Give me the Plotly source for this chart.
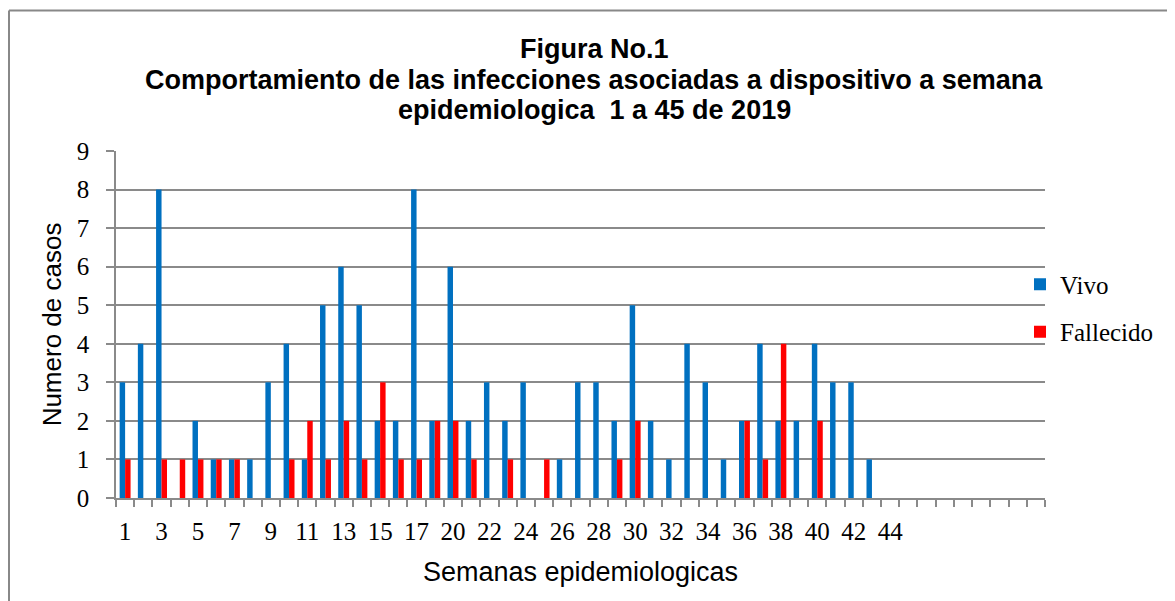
import plotly.graph_objects as go

# Semanas epidemiologicas (category labels, in order on the axis)
semanas = ["1", "2", "3", "4", "5", "6", "7", "8", "9", "10", "11", "12", "13", "14", "15", "16", "17",
           "19", "20", "21", "22", "23", "24", "25", "26", "27", "28", "29", "30", "31", "32", "33",
           "34", "35", "36", "37", "38", "39", "40", "41", "42", "43", "44", "45"]
vivo = [3, 4, 8, 0, 2, 1, 1, 1, 3, 4, 1, 5, 6, 5, 2, 2, 8,
        2, 6, 2, 3, 2, 3, 0, 1, 3, 3, 2, 5, 2, 1, 4,
        3, 1, 2, 4, 2, 2, 4, 3, 3, 1, 0, 0]
fallecido = [1, 0, 1, 1, 1, 1, 1, 0, 0, 1, 2, 1, 2, 1, 3, 1, 1,
             2, 2, 1, 0, 1, 0, 1, 0, 0, 0, 1, 2, 0, 0, 0,
             0, 0, 2, 1, 4, 0, 2, 0, 0, 0, 0, 0]
n_slots = 51  # axis extends with empty slots after the last week
tick_labels = semanas[0:43:2]

title_lines = ["Figura No.1",
               "Comportamiento de las infecciones asociadas a dispositivo a semana",
               "epidemiologica  1 a 45 de 2019"]

x = list(range(len(semanas)))

fig = go.Figure()
fig.add_bar(x=x, y=vivo, name="Vivo", marker=dict(color="#0070C0", line=dict(width=0)),
            legendgroup="g1")
fig.add_bar(x=x, y=fallecido, name="Fallecido", marker=dict(color="#FF0000", line=dict(width=0)),
            legendgroup="g2")

grid = "#8a8a8a"
serif = "Liberation Serif"
sans = "Liberation Sans"

OFF = 8  # page body margin
W, H = 1175 - OFF, 601 - OFF
L, T = 116 - OFF, 151 - OFF
R = W - (1045 - OFF)
B = H - (498.3 - OFF)
pw, ph = W - L - R, H - T - B


def px_x(sx):
    return (sx - OFF - L) / pw


def px_y(sy):
    return (H - B - (sy - OFF)) / ph


annotations = []
for line, yc in zip(title_lines, [49, 80, 110]):
    annotations.append(dict(
        text="<b>" + line + "</b>", x=px_x(594), y=px_y(yc), xref="paper", yref="paper",
        showarrow=False, xanchor="center", yanchor="middle",
        font=dict(family=sans, size=27, color="black"),
    ))

fig.update_layout(
    width=W, height=H,
    margin=dict(l=L, r=R, t=T, b=B),
    paper_bgcolor="white", plot_bgcolor="white",
    barmode="group", bargap=0.4, bargroupgap=0,
    annotations=annotations,
    legend=dict(
        x=px_x(1020), xref="paper", xanchor="left",
        y=px_y(261.5), yref="paper", yanchor="top",
        font=dict(family=serif, size=25, color="black"),
        bgcolor="rgba(0,0,0,0)", borderwidth=0,
        traceorder="grouped", tracegroupgap=12, itemwidth=30,
    ),
    xaxis=dict(
        range=[-0.5, n_slots - 0.5],
        tickmode="array", tickvals=x[0:43:2], ticktext=tick_labels,
        ticks="", showgrid=False, zeroline=False,
        showline=True, linecolor=grid, linewidth=1.5,
        tickfont=dict(family=serif, size=25, color="black"),
        ticklabelstandoff=10,
        minor=dict(tickmode="linear", tick0=-0.5, dtick=1, ticks="outside",
                   ticklen=7, tickwidth=1.5, tickcolor=grid, showgrid=False),
        title=dict(text="Semanas epidemiologicas", font=dict(family=sans, size=27, color="black"),
                   standoff=18),
    ),
    yaxis=dict(
        range=[0, 9], tickmode="linear", tick0=0, dtick=1,
        ticks="outside", ticklen=8, tickwidth=1.5, tickcolor=grid,
        showgrid=True, gridcolor=grid, gridwidth=1.5,
        zeroline=False, showline=True, linecolor=grid, linewidth=1.5,
        tickfont=dict(family=serif, size=25, color="black"),
        ticklabelstandoff=12,
        title=dict(text="Numero de casos", font=dict(family=sans, size=26, color="black"),
                   standoff=8),
    ),
    shapes=[
        dict(type="line", xref="paper", yref="paper", x0=px_x(9), x1=px_x(1200), y0=px_y(10.5), y1=px_y(10.5),
             line=dict(color="#888888", width=2)),
        dict(type="line", xref="paper", yref="paper", x0=px_x(9), x1=px_x(9), y0=px_y(10.5), y1=px_y(620),
             line=dict(color="#888888", width=2)),
    ],
)

fig.write_html("out.html")
